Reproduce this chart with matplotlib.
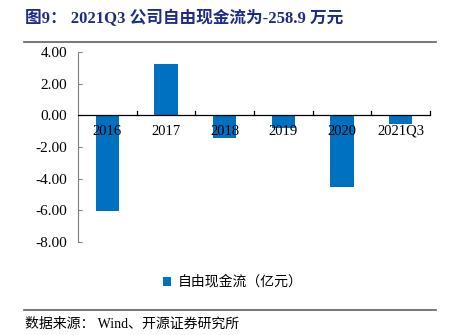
import matplotlib
matplotlib.use("Agg")
import matplotlib.pyplot as plt
from matplotlib.lines import Line2D
from matplotlib.patches import Patch

categories = ["2016", "2017", "2018", "2019", "2020", "2021Q3"]
values = [-6.07, 3.22, -1.42, -0.78, -4.55, -0.57]
yticks = [4, 2, 0, -2, -4, -6, -8]
series_name = "自由现金流（亿元）"
title = "图9： 2021Q3 公司自由现金流为-258.9 万元"
source = "数据来源： Wind、开源证券研究所"

CJK = ["Noto Sans CJK SC", "DejaVu Sans"]
SERIF = ["Liberation Serif", "Noto Sans CJK SC"]
bar_color = "#0070C0"

fig = plt.figure(figsize=(4.49, 3.35), dpi=100)
ax = fig.add_axes([78/449, 1-242/335, (430-78)/449, (242-52)/335])

x = list(range(len(categories)))
ax.bar(x, values, width=0.4, color=bar_color, zorder=2)
ax.set_xlim(-0.5, len(categories) - 0.5)
ax.set_ylim(-8, 4)
ax.set_yticks(yticks)
ax.set_yticklabels([f"{v:.2f}" for v in yticks], family=SERIF, fontsize=11)
ax.tick_params(axis="y", direction="in", length=3, color="#808080", pad=8)
for s in ["top", "right", "bottom"]:
    ax.spines[s].set_visible(False)
ax.spines["left"].set_color("#808080")
ax.set_xticks([])

# zero line with boundary ticks
ax.axhline(0, color="black", lw=0.9, zorder=3)
for b in [i + 0.5 for i in x]:
    ax.plot([b, b], [0, 0.25], color="black", lw=0.9, zorder=3, clip_on=False)
for xi, c in zip(x, categories):
    ax.text(xi, -1.0, c, ha="center", va="center", family=SERIF, fontsize=10.5, zorder=4)

# legend
fig.legend(handles=[Patch(facecolor=bar_color, edgecolor="none", label=series_name)],
           loc="center", bbox_to_anchor=(233/449, 1-282/335), frameon=False,
           prop={"family": CJK, "size": 10}, handlelength=0.6, handleheight=0.6,
           handletextpad=0.5)

# title and separators
fig.text(25/449, 1-19/335, title, ha="left", va="center", family=["Liberation Serif", "Noto Sans CJK SC"],
         fontsize=12, fontweight="bold", color="#1F2C85")
fig.add_artist(Line2D([24/449, 436/449], [1-41.5/335, 1-41.5/335], color="#606060", lw=1.2))
fig.add_artist(Line2D([24/449, 436/449], [1-309.5/335, 1-309.5/335], color="#606060", lw=1.2))
fig.text(25/449, 1-324/335, source, ha="left", va="center", family=["Liberation Serif", "Noto Sans CJK SC"], fontsize=10)

fig.savefig("out.png", dpi=100)
